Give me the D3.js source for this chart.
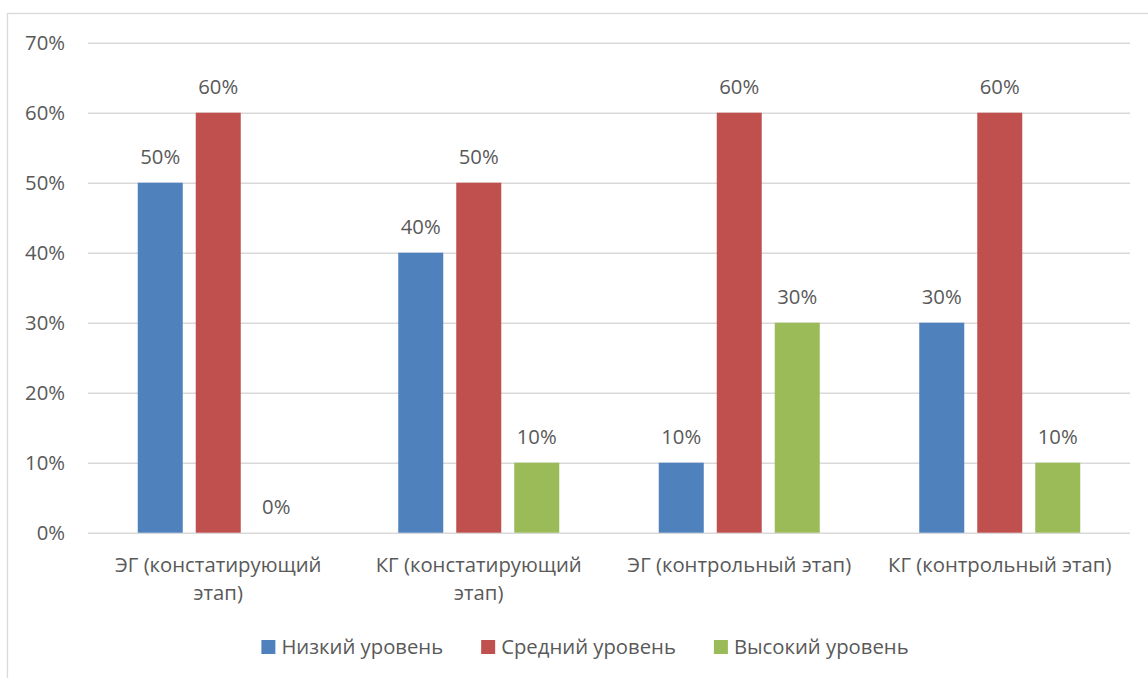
<!DOCTYPE html>
<html>
<head>
<meta charset="utf-8">
<script src="https://cdn.jsdelivr.net/npm/d3@7"></script>
<style>
  html, body { margin: 0; padding: 0; background: #fff; }
  svg { display: block; }
  text { font-family: "Open Sans", "Noto Sans", sans-serif; fill: #595959; }
</style>
</head>
<body>
<svg id="chart" width="1148" height="678"></svg>
<script>
// Categories (groups on the x axis)
const categories = [
  "ЭГ (констатирующий этап)",
  "КГ (констатирующий этап)",
  "ЭГ (контрольный этап)",
  "КГ (контрольный этап)"
];
// Series names and their values per category (fractions)
const seriesNames = ["Низкий уровень", "Средний уровень", "Высокий уровень"];
const lowValues = [0.5, 0.4, 0.1, 0.3];
const midValues = [0.6, 0.5, 0.6, 0.6];
const highValues = [0.0, 0.1, 0.3, 0.1];
const seriesColors = ["#4f81bd", "#c0504d", "#9bbb59"];
// Y axis ticks
const yTicks = [0, 0.1, 0.2, 0.3, 0.4, 0.5, 0.6, 0.7];

const seriesValues = [lowValues, midValues, highValues];
const pct = d3.format(".0%");

const svg = d3.select("#chart");
const FONT = 20.3;

// outer chart frame
svg.append("rect")
  .attr("x", 7.5).attr("y", 13.5)
  .attr("width", 1160).attr("height", 700)
  .attr("fill", "none").attr("stroke", "#d9d9d9").attr("stroke-width", 1.3);

const plot = { left: 88, right: 1130, top: 42.7, bottom: 532.7 };

const y = d3.scaleLinear().domain([0, 0.7]).range([plot.bottom, plot.top]);
const x0 = d3.scaleBand().domain(categories)
  .range([plot.left, plot.right]).paddingInner(0.382).paddingOuter(0.191);
const x1 = d3.scaleBand().domain(d3.range(seriesNames.length))
  .range([0, x0.bandwidth()]).paddingInner(0.224).paddingOuter(0);

// gridlines + y tick labels via axis
const yAxis = d3.axisLeft(y).tickValues(yTicks).tickFormat(pct)
  .tickSize(-(plot.right - plot.left)).tickPadding(23);
const gy = svg.append("g").attr("transform", `translate(${plot.left},0)`).call(yAxis);
gy.select(".domain").remove();
gy.selectAll(".tick line").attr("stroke", "#d9d9d9").attr("stroke-width", 1.4);
gy.selectAll(".tick text")
  .attr("font-size", FONT).attr("fill", "#595959")
  .style("font-family", '"Open Sans", sans-serif');

// bars
const groups = svg.append("g").selectAll("g")
  .data(categories).join("g")
  .attr("transform", c => `translate(${x0(c)},0)`);

groups.selectAll("rect")
  .data((c, ci) => seriesValues.map((vals, si) => ({ si, v: vals[ci] })))
  .join("rect")
  .attr("x", d => x1(d.si))
  .attr("width", x1.bandwidth())
  .attr("y", d => y(d.v))
  .attr("height", d => y(0) - y(d.v))
  .attr("fill", d => seriesColors[d.si]);

// value labels
groups.selectAll("text.val")
  .data((c, ci) => seriesValues.map((vals, si) => ({ si, v: vals[ci] })))
  .join("text")
  .attr("class", "val")
  .attr("x", d => x1(d.si) + x1.bandwidth() / 2)
  .attr("y", d => y(d.v) - 19)
  .attr("text-anchor", "middle")
  .attr("font-size", FONT)
  .text(d => pct(d.v));

// category labels with word wrapping
const maxW = x0.step() * 0.94;
categories.forEach(c => {
  const cx = x0(c) + x0.bandwidth() / 2;
  const t = svg.append("text")
    .attr("text-anchor", "middle")
    .attr("font-size", FONT)
    .attr("x", cx)
    .attr("y", 571.5);
  let line = [];
  let tspan = t.append("tspan").attr("x", cx).attr("dy", 0);
  c.split(" ").forEach(w => {
    line.push(w);
    tspan.text(line.join(" "));
    if (tspan.node().getComputedTextLength() > maxW && line.length > 1) {
      line.pop();
      tspan.text(line.join(" "));
      line = [w];
      tspan = t.append("tspan").attr("x", cx).attr("dy", 28.5).text(w);
    }
  });
});

// legend: square, label, then spacing; the whole row is centred
const legendCenter = 585, sq = 14, sqGap = 6, itemGap = 38;
const legend = svg.append("g").attr("transform", "translate(0,640)");
const items = legend.selectAll("g").data(seriesNames).join("g");
items.append("rect")
  .attr("width", sq).attr("height", sq)
  .attr("fill", (d, i) => seriesColors[i]);
items.append("text")
  .attr("x", sq + sqGap).attr("y", 13.5)
  .attr("font-size", FONT)
  .text(d => d);
let offsets = [], cur = 0;
items.each(function () {
  offsets.push(cur);
  cur += sq + sqGap + d3.select(this).select("text").node().getComputedTextLength() + itemGap;
});
const total = cur - itemGap;
items.attr("transform", (d, i) => `translate(${legendCenter - total / 2 + offsets[i]},0)`);
</script>
</body>
</html>
